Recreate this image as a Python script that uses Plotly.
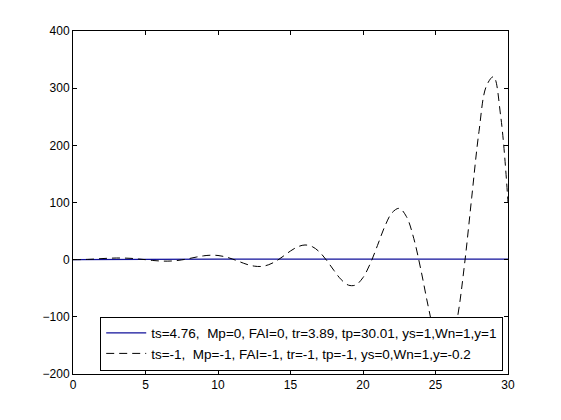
import plotly.graph_objects as go

# time samples (x axis, seconds)
t_stable = [0, 0.5, 1, 1.5, 2, 3, 4, 5, 6, 8, 10, 15, 20, 25, 30]
y_stable = [0, 0.09, 0.26, 0.44, 0.59, 0.80, 0.91, 0.96, 0.98, 1.0, 1.0, 1.0, 1.0, 1.0, 1.0]

t_unstable = [0, 0.5, 1, 1.5, 2, 2.5, 3, 3.5, 4, 4.5, 5, 5.5, 6, 6.5, 7, 7.5,
              8, 8.5, 9, 9.5, 10, 10.5, 11, 11.5, 12, 12.5, 13, 13.5, 14, 14.5,
              15, 15.5, 16, 16.5, 17, 17.5, 18, 18.5, 19, 19.5, 20, 20.5, 21,
              21.5, 22, 22.5, 23, 23.5, 24, 24.5, 25, 25.5, 26, 26.5, 27, 27.5,
              28, 28.5, 29, 29.5, 30]
y_unstable = [0, 0.1, 0.5, 1.1, 1.9, 2.5, 2.9, 2.8, 2.3, 1.2, 0, -1.4, -2.3,
              -2.6, -2.0, -0.4, 1.9, 4.5, 6.7, 7.8, 7.3, 5.0, 1.1, -3.7, -8.3,
              -11.3, -11.8, -8.8, -2.6, 6.0, 15.2, 22.5, 25.7, 22.8, 13.4, -1.5,
              -19, -35, -44.6, -44.2, -31.3, -6.9, 25, 57.9, 82, 89.8, 75.1,
              37.3, -18.7, -82, -136.7, -166, -156.8, -103, -8.5, 109.4, 224.3,
              303, 320, 250.2, 100.6]

label_stable = "ts=4.76,  Mp=0, FAI=0, tr=3.89, tp=30.01, ys=1,Wn=1,y=1"
label_unstable = "ts=-1,  Mp=-1, FAI=-1, tr=-1, tp=-1, ys=0,Wn=1,y=-0.2"

x_ticks = [0, 5, 10, 15, 20, 25, 30]
y_ticks = [-200, -100, 0, 100, 200, 300, 400]

fig = go.Figure()
fig.add_trace(go.Scatter(x=t_stable, y=y_stable, mode="lines", name=label_stable,
                         line=dict(color="#10109a", width=1.1)))
fig.add_trace(go.Scatter(x=t_unstable, y=y_unstable, mode="lines", name=label_unstable,
                         line=dict(color="black", width=1, dash="8px,5px", shape="spline")))

axis_style = dict(showgrid=False, zeroline=False, showline=True, mirror="ticks",
                  linecolor="black", linewidth=1, ticks="inside", ticklen=4,
                  tickcolor="black", tickfont=dict(family="Liberation Sans", size=12, color="black"))

fig.update_xaxes(range=[0, 30], tickvals=x_ticks, **axis_style)
fig.update_yaxes(range=[-200, 400], tickvals=y_ticks, **axis_style)

fig.update_layout(
    width=561, height=420,
    margin=dict(l=65, r=61, t=23, b=54),
    paper_bgcolor="white", plot_bgcolor="white",
    showlegend=True,
    legend=dict(x=0.989, y=0.01, xanchor="right", yanchor="bottom",
                bgcolor="white", bordercolor="black", borderwidth=1,
                font=dict(family="Liberation Sans", size=13.5, color="black"),
                tracegroupgap=0, itemwidth=40),
)

fig.write_html("out.html")
